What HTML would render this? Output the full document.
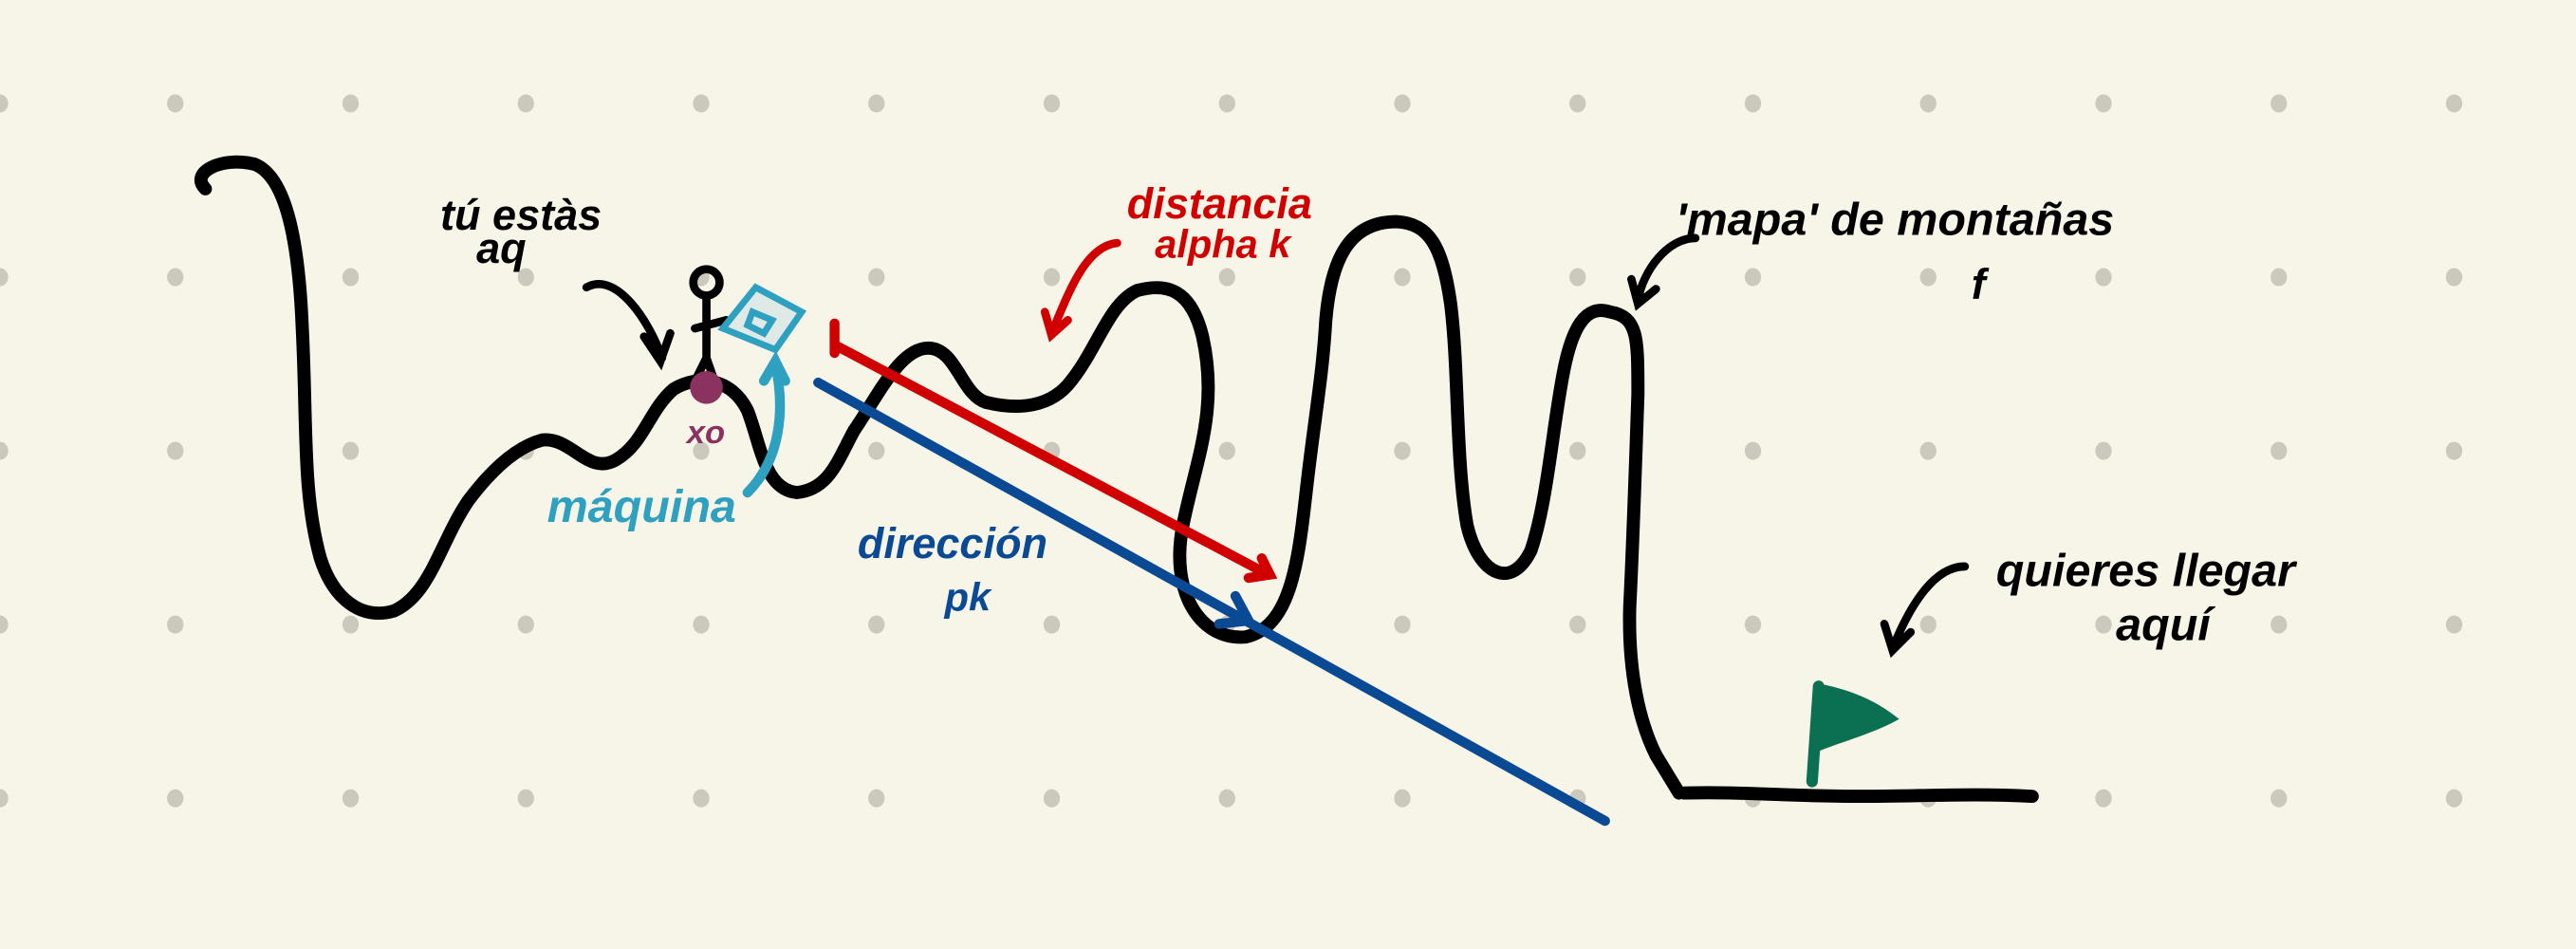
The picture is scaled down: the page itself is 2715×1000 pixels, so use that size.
<!DOCTYPE html>
<html><head><meta charset="utf-8"><style>
html,body{margin:0;padding:0;background:#f7f4e8;}
svg{display:block;}
text{font-family:"Liberation Sans",sans-serif;font-weight:bold;font-style:italic;}
</style></head><body>
<svg id="sk" width="2715" height="1000" viewBox="0 0 1568 578" preserveAspectRatio="none" xmlns="http://www.w3.org/2000/svg">
<rect width="1568" height="578" fill="#f7f4e8"/>
<g id="dots"></g>
<path fill="none" stroke="#000" stroke-width="8" stroke-linecap="round" stroke-linejoin="round"
d="M125,115 C115,105 135,95 155,100 C175,108 182,150 184,200 C187,260 184,300 195,340 C203,365 220,378 240,372 C262,362 268,330 285,305 C300,285 315,272 330,268 C348,266 358,290 375,280 C392,270 395,250 410,237 C425,228 445,230 455,250 C463,270 465,298 485,300 C505,298 510,280 520,262 C535,240 548,212 565,212 C582,212 585,240 600,245 C620,250 640,248 652,232 C668,212 675,185 692,177 C710,172 725,176 732,205 C742,250 728,280 720,320 C712,360 730,390 758,388 C785,382 790,345 795,300 C800,255 805,230 807,195 C810,160 820,135 850,135 C870,136 878,150 883,185 C888,225 886,280 893,320 C900,350 920,360 932,335 C942,305 945,260 952,225 C957,200 965,185 980,190 C997,193 997,205 997,240 C995,300 994,330 992,370 C991,410 998,440 1008,460 L1022,483 M1025,483 C1060,482 1090,485 1130,485 C1170,485 1200,483 1237,485"/>
<g stroke="#000" stroke-width="5" fill="none" stroke-linecap="round">
<circle cx="430" cy="172" r="8"/>
<path d="M430,181 L430,218 L423,232 M430,218 L436,235 M423,200 L442,195"/>
</g>
<circle cx="430" cy="236" r="10" fill="#8b3360"/>
<text x="418" y="270" font-size="20" fill="#8b3360">xo</text>
<g fill="#dfe9e5" stroke="#2ea0c0" stroke-width="4">
<path d="M460,175 L488,190 L472,213 L440,200 Z"/>
<path d="M458,190 L470,195 L465,203 L455,198 Z"/>
</g>
<path d="M455,300 C475,280 478,250 472,222 M465,232 L472,220 L478,232" fill="none" stroke="#2ea0c0" stroke-width="6" stroke-linecap="round"/>
<text x="333" y="318" font-size="28" fill="#2ea0c0">máquina</text>
<text x="268" y="140" font-size="26" fill="#000">tú estàs</text>
<text x="290" y="160" font-size="26" fill="#000">aq</text>
<path d="M357,175 C375,165 395,195 403,218 M392,205 L402,220 L408,203" fill="none" stroke="#000" stroke-width="5" stroke-linecap="round"/>
<path d="M508,197 L508,215 M508,210 L772,350 M760,352 L773,350 L768,340" fill="none" stroke="#d10000" stroke-width="6" stroke-linecap="round"/>
<text x="686" y="133" font-size="26" fill="#d10000">distancia</text>
<text x="703" y="157" font-size="24" fill="#d10000">alpha k</text>
<path d="M680,148 C660,150 650,180 640,203 M636,190 L640,204 L650,195" fill="none" stroke="#d10000" stroke-width="5" stroke-linecap="round"/>
<path d="M498,233 L977,500 M742,380 L760,378 L752,363" fill="none" stroke="#0a4a94" stroke-width="6" stroke-linecap="round"/>
<text x="522" y="340" font-size="26" fill="#0a4a94">dirección</text>
<text x="575" y="372" font-size="24" fill="#0a4a94">pk</text>
<text x="1020" y="143" font-size="28" fill="#000">'mapa' de montañas</text>
<text x="1200" y="182" font-size="26" fill="#000">f</text>
<path d="M1032,145 C1015,145 1000,165 997,183 M993,170 L997,185 L1008,176" fill="none" stroke="#000" stroke-width="5" stroke-linecap="round"/>
<text x="1215" y="357" font-size="28" fill="#000">quieres llegar</text>
<text x="1288" y="390" font-size="28" fill="#000">aquí</text>
<path d="M1196,345 C1175,345 1160,375 1152,395 M1147,380 L1152,396 L1163,385" fill="none" stroke="#000" stroke-width="5" stroke-linecap="round"/>
<g>
<path d="M1103,476 L1107,418" stroke="#0b7052" stroke-width="7" stroke-linecap="round"/>
<path d="M1106,416 C1125,420 1140,425 1156,438 C1140,447 1120,452 1106,458 Z" fill="#0b7052"/>
</g>
</svg>
<script>
const dotCols = [0,1,2,3,4,5,6,7,8,9,10,11,12,13,14];
const dotRows = [0,1,2,3,4];
const g = document.getElementById('dots');
dotRows.forEach(r => dotCols.forEach(c => {
  const d = document.createElementNS('http://www.w3.org/2000/svg','ellipse');
  d.setAttribute('cx', c*106.7);
  d.setAttribute('cy', 63 + r*105.8);
  d.setAttribute('rx', 5);
  d.setAttribute('ry', 5.5);
  d.setAttribute('fill', '#cbc8bd');
  
  
  g.appendChild(d);
}));
</script>
</body></html>
